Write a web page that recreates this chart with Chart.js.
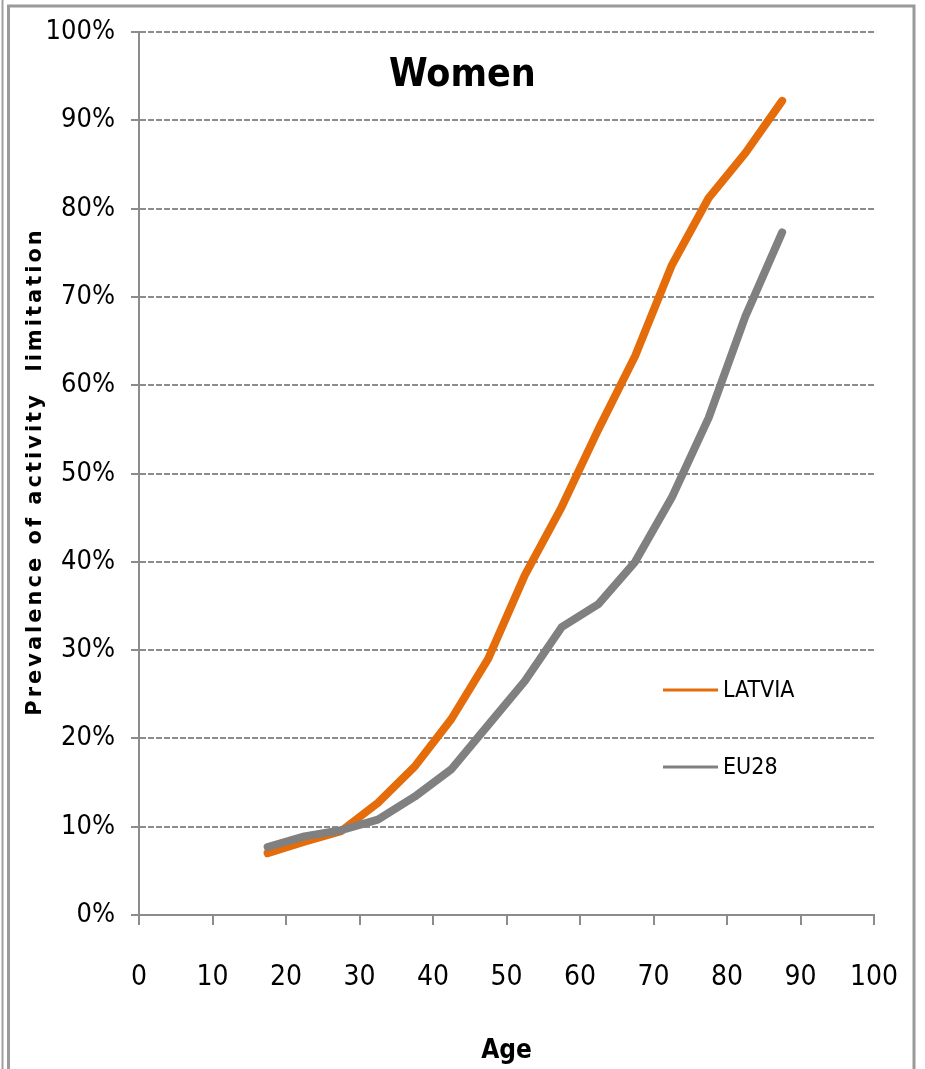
<!DOCTYPE html>
<html>
<head>
<meta charset="utf-8">
<script src="https://cdn.jsdelivr.net/npm/chart.js@4"></script>
<style>
html,body{margin:0;padding:0;background:#fff;}
#wrap{position:relative;width:925px;height:1069px;}
</style>
</head>
<body>
<div id="wrap"><canvas id="c" width="925" height="1069"></canvas></div>
<script>
const ages = [17.5, 22.5, 27.5, 32.5, 37.5, 42.5, 47.5, 52.5, 57.5, 62.5, 67.5, 72.5, 77.5, 82.5, 87.5];
const latvia = [7.0, 8.3, 9.5, 12.7, 16.8, 22.2, 29.0, 38.5, 46.2, 55.0, 63.3, 73.6, 81.2, 86.3, 92.2];
const eu28 = [7.7, 8.9, 9.6, 10.8, 13.4, 16.5, 21.5, 26.5, 32.6, 35.2, 40.0, 47.3, 56.3, 67.8, 77.3];
const seriesNames = ['LATVIA', 'EU28'];
const xTicks = [0, 10, 20, 30, 40, 50, 60, 70, 80, 90, 100];
const yTicks = [0, 10, 20, 30, 40, 50, 60, 70, 80, 90, 100];
const chartTitle = 'Women';
const xTitle = 'Age';
const yTitle = 'Prevalence of activity  limitation';

const ORANGE = '#E46C0A';
const GREY = '#808080';
const AXIS = '#8c8c8c';
const NARROW = "'DejaVu Sans Condensed', 'DejaVu Sans', sans-serif";

const toPts = (xs, ys) => xs.map((x, i) => ({x: x, y: ys[i]}));

const decor = {
  id: 'decor',
  beforeDraw(chart) {
    const ctx = chart.ctx;
    ctx.save();
    ctx.strokeStyle = '#a0a0a0';
    ctx.lineWidth = 2;
    ctx.beginPath();
    ctx.moveTo(2.5, 0); ctx.lineTo(2.5, 1069);
    ctx.stroke();
    ctx.lineWidth = 3;
    ctx.strokeStyle = '#9a9a9a';
    ctx.beginPath();
    ctx.moveTo(8.5, 1069); ctx.lineTo(8.5, 6); ctx.lineTo(914, 6); ctx.lineTo(914, 1069);
    ctx.stroke();
    ctx.restore();
  },
  afterDraw(chart) {
    const ctx = chart.ctx;
    const a = chart.chartArea;
    ctx.save();
    ctx.fillStyle = '#000';
    ctx.textAlign = 'center';
    ctx.textBaseline = 'middle';
    ctx.font = "bold 39px " + NARROW;
    ctx.fillText(chartTitle, a.left + (a.right - a.left) * 0.44, 76);
    // y-axis title
    ctx.save();
    ctx.translate(36, (a.top + a.bottom) / 2 - 2);
    ctx.rotate(-Math.PI / 2);
    ctx.font = "bold 21px 'DejaVu Sans', sans-serif";
    try { ctx.letterSpacing = '3px'; } catch (e) {}
    ctx.fillText(yTitle, 0, 0);
    ctx.restore();
    // legend
    const items = [[seriesNames[0], ORANGE, 690], [seriesNames[1], GREY, 767]];
    ctx.font = "23px " + NARROW;
    ctx.textAlign = 'left';
    items.forEach(([t, c, y]) => {
      ctx.strokeStyle = c;
      ctx.lineWidth = 3;
      ctx.beginPath();
      ctx.moveTo(663, y); ctx.lineTo(718, y);
      ctx.stroke();
      ctx.fillStyle = '#000';
      ctx.fillText(t, 723, y + 1);
    });
    ctx.restore();
  }
};

new Chart(document.getElementById('c'), {
  type: 'line',
  data: {
    datasets: [
      {label: seriesNames[0], data: toPts(ages, latvia), borderColor: ORANGE, backgroundColor: ORANGE,
       borderWidth: 8, pointRadius: 0, tension: 0, borderCapStyle: 'round', borderJoinStyle: 'round', order: 2},
      {label: seriesNames[1], data: toPts(ages, eu28), borderColor: GREY, backgroundColor: GREY,
       borderWidth: 8, pointRadius: 0, tension: 0, borderCapStyle: 'round', borderJoinStyle: 'round', order: 1}
    ]
  },
  options: {
    responsive: false,
    animation: false,
    devicePixelRatio: 1,
    layout: {padding: {left: 0, right: 51, top: 32, bottom: 0}},
    plugins: {legend: {display: false}, tooltip: {enabled: false}, title: {display: false}},
    scales: {
      x: {
        type: 'linear', min: 0, max: 100,
        afterBuildTicks: s => { s.ticks = xTicks.map(v => ({value: v})); },
        afterFit: s => { s.height = 154; s.paddingLeft = 0; s.paddingRight = 0; },
        border: {display: true, color: AXIS, width: 2},
        grid: {drawOnChartArea: false, drawTicks: true, tickLength: 10, color: AXIS, lineWidth: 2},
        ticks: {color: '#000', font: {family: NARROW, size: 28}, padding: 36, maxRotation: 0},
        title: {display: true, text: xTitle, color: '#000', font: {family: NARROW, size: 26, weight: 'bold'}, padding: {top: 0, bottom: 2}}
      },
      y: {
        type: 'linear', min: 0, max: 100,
        afterBuildTicks: s => { s.ticks = yTicks.map(v => ({value: v})); },
        afterFit: s => { s.width = 139; s.paddingTop = 0; s.paddingBottom = 0; },
        border: {display: true, color: AXIS, width: 2, dash: [6, 2]},
        grid: {color: AXIS, lineWidth: 2, tickBorderDash: [], drawTicks: true, tickLength: 8},
        ticks: {color: '#000', font: {family: NARROW, size: 27}, padding: 16, callback: v => v + '%'},
        title: {display: false}
      }
    }
  },
  plugins: [decor]
});
</script>
</body>
</html>
